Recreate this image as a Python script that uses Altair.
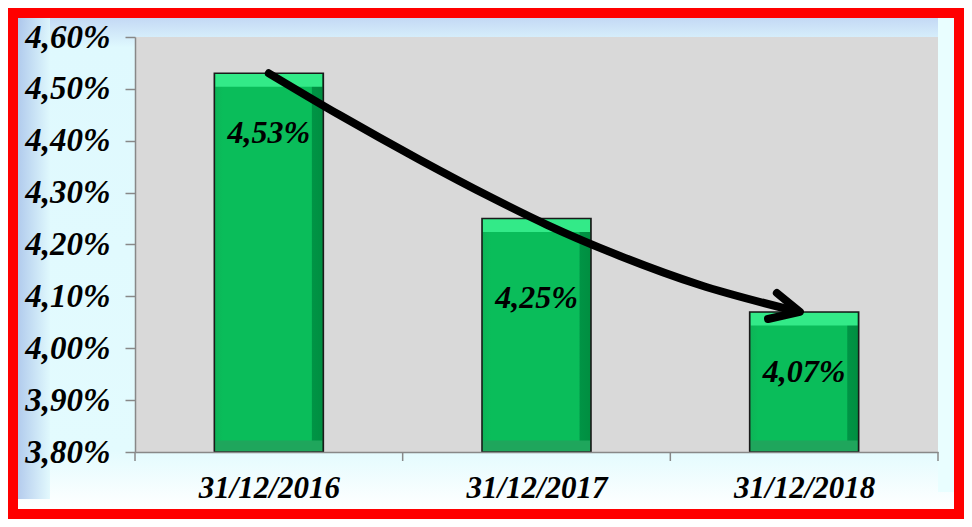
import altair as alt
import pandas as pd

categories = ["31/12/2016", "31/12/2017", "31/12/2018"]
cat_pos = [0.5, 1.5, 2.5]
values = [4.53, 4.25, 4.07]
value_labels = ["4,53%", "4,25%", "4,07%"]
label_pos = [4.415, 4.097, 3.954]
y_ticks = [3.8, 3.9, 4.0, 4.1, 4.2, 4.3, 4.4, 4.5, 4.6]
x_bounds = [0, 1, 2, 3]

# arrow annotation (x in category-slot units)
arrow_x = [0.50, 0.766, 1.065, 1.326, 1.539, 1.812, 2.111, 2.466]
arrow_y = [4.530, 4.449, 4.363, 4.292, 4.238, 4.178, 4.122, 4.072]
head_x = [2.398, 2.484, 2.365]
head_y = [4.1065, 4.070, 4.0564]

W, H = 803, 415
FONT = "Liberation Serif"
BAR_W = 109

bars_df = pd.DataFrame({"pos": cat_pos, "cat": categories, "value": values,
                        "label": value_labels, "lpos": label_pos})
arrow_df = pd.DataFrame({"x": arrow_x, "y": arrow_y, "o": list(range(len(arrow_x)))})
head_df = pd.DataFrame({"x": head_x, "y": head_y, "o": list(range(len(head_x)))})
bounds_df = pd.DataFrame({"b": x_bounds})
one = pd.DataFrame({"a": [0]})

yscale = alt.Scale(domain=[3.8, 4.6], zero=False, nice=False, padding=0)
xscale = alt.Scale(domain=[0, 3], zero=False, nice=False, padding=0)

label_map = "{'0.5': '31/12/2016', '1.5': '31/12/2017', '2.5': '31/12/2018'}"

panel = alt.Chart(one).mark_rect(
    fill=alt.Gradient(gradient="linear", x1=0, y1=0, x2=0, y2=1, stops=[
        alt.GradientStop(offset=0, color="#c4d9f5"),
        alt.GradientStop(offset=0.04, color="#d6eefb"),
        alt.GradientStop(offset=0.06, color="#dff9fe"),
        alt.GradientStop(offset=0.88, color="#e3fbfe"),
        alt.GradientStop(offset=1, color="#ffffff"),
    ])
).encode(x=alt.value(-117), x2=alt.value(819), y=alt.value(-19), y2=alt.value(472))

left_strip = alt.Chart(one).mark_rect(
    fill=alt.Gradient(gradient="linear", x1=0, y1=0, x2=1, y2=0, stops=[
        alt.GradientStop(offset=0, color="#a9c3ea"),
        alt.GradientStop(offset=1, color="#dff8fd"),
    ]), opacity=0.85
).encode(x=alt.value(-117), x2=alt.value(-85), y=alt.value(-19), y2=alt.value(462))

right_strip = alt.Chart(one).mark_rect(color="#e9feff").encode(
    x=alt.value(803), x2=alt.value(819), y=alt.value(-19), y2=alt.value(455))

plot_bg = alt.Chart(one).mark_rect(color="#d9d9d9").encode(
    x=alt.value(0), x2=alt.value(W), y=alt.value(0), y2=alt.value(H))

base = alt.Chart(bars_df)

bars = base.mark_bar(
    width=BAR_W,
    fill=alt.Gradient(gradient="linear", x1=0, y1=0, x2=1, y2=0, stops=[
        alt.GradientStop(offset=0, color="#0db457"),
        alt.GradientStop(offset=0.08, color="#0abd5a"),
        alt.GradientStop(offset=0.89, color="#0abd5a"),
        alt.GradientStop(offset=0.9, color="#009445"),
        alt.GradientStop(offset=1, color="#008e40"),
    ]), strokeWidth=0
).encode(
    x=alt.X("pos:Q", scale=xscale, title=None,
            axis=alt.Axis(values=cat_pos, ticks=False, labelPadding=21, zindex=2,
                          labelFontSize=31, labelExpr=label_map + "[toString(datum.value)]",
                          labelFlush=False)),
    y=alt.Y("value:Q", scale=yscale, title=None,
            axis=alt.Axis(values=y_ticks, tickSize=10, labelPadding=15, zindex=2,
                          labelFontSize=33,
                          labelExpr="replace(format(datum.value, '.2f'), '.', ',') + '%'")),
    y2=alt.datum(3.8),
)

top_bevel = base.mark_tick(orient="horizontal", size=BAR_W - 2, thickness=13, yOffset=7,
                           color="#33ea88", opacity=1).encode(x="pos:Q", y="value:Q")

bottom_bevel = base.mark_tick(orient="horizontal", size=BAR_W - 2, thickness=11, yOffset=-6,
                              color="#1fa65c", opacity=1).encode(x="pos:Q", y=alt.datum(3.8))

bar_outline = base.mark_bar(width=BAR_W, fillOpacity=0, stroke="#1a1a1a", strokeWidth=1.6).encode(
    x="pos:Q", y="value:Q", y2=alt.datum(3.8))

labels = base.mark_text(font=FONT, fontSize=32, fontStyle="italic", fontWeight="bold",
                        color="black", baseline="middle").encode(
    x="pos:Q", y="lpos:Q", text="label:N")

xticks = alt.Chart(bounds_df).mark_rule(color="#888888", strokeWidth=1.5).encode(
    x="b:Q", y=alt.value(H), y2=alt.value(H + 9))

arrow = alt.Chart(arrow_df).mark_line(color="black", strokeWidth=8, strokeCap="round",
                                      strokeJoin="round", interpolate="monotone").encode(
    x="x:Q", y="y:Q", order="o:Q")
head = alt.Chart(head_df).mark_line(color="black", strokeWidth=8, strokeCap="round",
                                    strokeJoin="round").encode(
    x="x:Q", y="y:Q", order="o:Q")

chart = alt.layer(panel, left_strip, right_strip, plot_bg, bars, bottom_bevel, top_bevel,
                  bar_outline, labels, xticks, arrow, head).properties(
    width=W, height=H, background="#ff0000",
    autosize=alt.AutoSizeParams(type="none"),
    padding={"left": 127, "top": 29, "right": 26, "bottom": 67},
).configure_view(stroke=None).configure_axis(
    domainColor="#888888", domainWidth=1.5, tickColor="#888888", tickWidth=1.5,
    labelFont=FONT, labelFontStyle="italic", labelFontWeight="bold", labelColor="black",
    grid=False,
)

chart.save("out.html", embed_options={"renderer": "svg", "actions": False})
